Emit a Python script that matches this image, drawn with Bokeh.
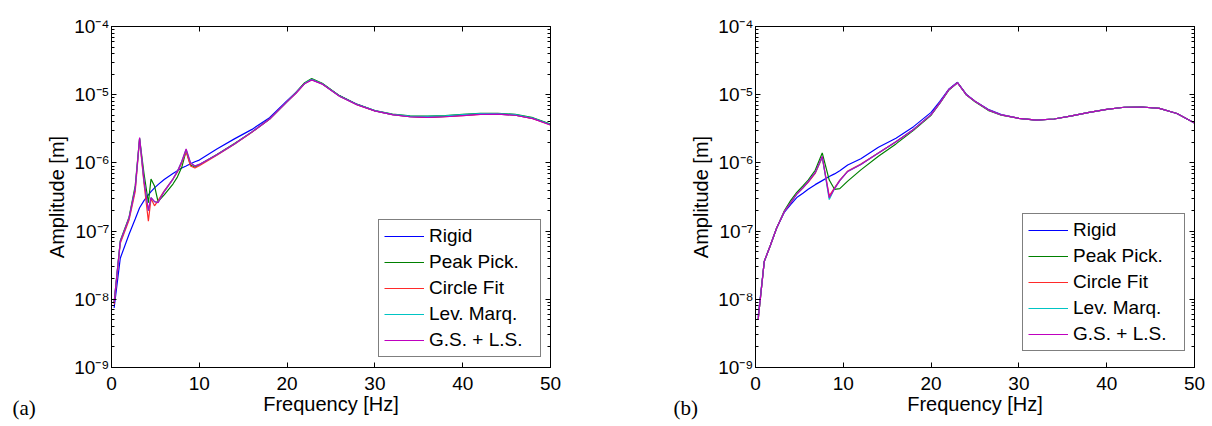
from bokeh.plotting import figure
from bokeh.models import (FixedTicker, LinearAxis, LogAxis, Range1d, Label,
                          CustomJSTickFormatter)
from bokeh.layouts import row
from bokeh.embed import file_html
from bokeh.resources import INLINE

# ---------------- data ----------------
series_names = ["Rigid", "Peak Pick.", "Circle Fit", "Lev. Marq.", "G.S. + L.S."]
series_colors = ["#0000ff", "#008000", "#ff2a2a", "#00c4c4", "#bf00bf"]

x_ticks = [0, 10, 20, 30, 40, 50]
y_major = [1e-9, 1e-8, 1e-7, 1e-6, 1e-5, 1e-4]
panel_tags = ["(a)", "(b)"]

freq_a = [0.3, 1.0, 2.0, 2.7, 3.2, 3.7, 4.2, 4.5, 4.9, 5.3, 6.0, 7.0, 7.5, 8.0,
          8.5, 9.0, 9.5, 10.0, 12.0, 14.0, 16.0, 18.0, 20.0, 21.0, 22.0, 22.8,
          24.0, 26.0, 28.0, 30.0, 32.0, 34.0, 36.0, 38.0, 40.0, 42.0, 44.0,
          46.0, 48.0, 50.0]
rigid_a = [7.5e-9, 4.0e-8, 9.0e-8, 1.5e-7, 2.2e-7, 2.8e-7, 3.4e-7, 3.8e-7,
           4.3e-7, 4.8e-7, 5.7e-7, 7.0e-7, 7.7e-7, 8.4e-7, 9.0e-7, 9.7e-7,
           1.04e-6, 1.1e-6, 1.6e-6, 2.25e-6, 3.1e-6, 4.6e-6, 8.2e-6, 1.08e-5,
           1.47e-5, 1.66e-5, 1.45e-5, 9.6e-6, 7.2e-6, 5.8e-6, 5.1e-6, 4.75e-6,
           4.65e-6, 4.8e-6, 5.0e-6, 5.2e-6, 5.2e-6, 5.0e-6, 4.5e-6, 3.65e-6]
peak_a = [9.0e-9, 7.2e-8, 1.6e-7, 4.6e-7, 2.3e-6, 7.0e-7, 2.6e-7, 5.8e-7,
          4.6e-7, 2.7e-7, 3.4e-7, 4.9e-7, 6.2e-7, 8.6e-7, 1.5e-6, 9.3e-7,
          8.7e-7, 9.4e-7, 1.33e-6, 1.93e-6, 2.85e-6, 4.4e-6, 7.9e-6, 1.07e-5,
          1.5e-5, 1.72e-5, 1.47e-5, 9.6e-6, 7.2e-6, 5.85e-6, 5.2e-6, 4.9e-6,
          4.85e-6, 4.95e-6, 5.15e-6, 5.35e-6, 5.35e-6, 5.15e-6, 4.6e-6, 3.7e-6]
circle_a = [8.5e-9, 6.6e-8, 1.45e-7, 3.8e-7, 2.2e-6, 5.0e-7, 1.4e-7, 3.0e-7,
            2.35e-7, 2.8e-7, 3.9e-7, 5.8e-7, 7.3e-7, 1.0e-6, 1.45e-6, 9.0e-7,
            8.4e-7, 9.1e-7, 1.3e-6, 1.88e-6, 2.82e-6, 4.35e-6, 7.9e-6, 1.05e-5,
            1.46e-5, 1.66e-5, 1.44e-5, 9.5e-6, 7.1e-6, 5.8e-6, 5.1e-6, 4.75e-6,
            4.65e-6, 4.75e-6, 4.95e-6, 5.15e-6, 5.2e-6, 5.0e-6, 4.45e-6, 3.6e-6]
levmar_a = [9.0e-9, 7.0e-8, 1.55e-7, 4.2e-7, 2.3e-6, 5.5e-7, 2.0e-7, 3.1e-7,
            2.7e-7, 2.65e-7, 3.8e-7, 5.8e-7, 7.5e-7, 1.05e-6, 1.57e-6, 1.0e-6,
            9.0e-7, 9.5e-7, 1.32e-6, 1.9e-6, 2.85e-6, 4.4e-6, 7.9e-6, 1.06e-5,
            1.47e-5, 1.68e-5, 1.45e-5, 9.5e-6, 7.15e-6, 5.85e-6, 5.15e-6,
            4.85e-6, 4.8e-6, 4.9e-6, 5.1e-6, 5.3e-6, 5.3e-6, 5.1e-6, 4.55e-6,
            3.65e-6]
gsls_a = [9.0e-9, 7.0e-8, 1.55e-7, 4.2e-7, 2.35e-6, 5.5e-7, 2.0e-7, 3.1e-7,
          2.7e-7, 2.6e-7, 3.8e-7, 5.8e-7, 7.5e-7, 1.05e-6, 1.6e-6, 1.0e-6,
          9.0e-7, 9.5e-7, 1.32e-6, 1.9e-6, 2.85e-6, 4.4e-6, 7.9e-6, 1.05e-5,
          1.45e-5, 1.65e-5, 1.43e-5, 9.4e-6, 7.1e-6, 5.8e-6, 5.1e-6, 4.75e-6,
          4.65e-6, 4.75e-6, 4.95e-6, 5.15e-6, 5.2e-6, 5.0e-6, 4.45e-6, 3.6e-6]

freq_b = [0.3, 1.0, 1.7, 2.4, 3.3, 4.0, 4.7, 5.4, 6.0, 6.8, 7.6, 8.4, 9.0, 9.6,
          10.5, 12.0, 14.0, 16.0, 18.0, 20.0, 21.0, 22.0, 23.0, 24.0, 25.0,
          26.5, 28.0, 30.0, 32.0, 34.0, 36.0, 38.0, 40.0, 42.0, 44.0, 46.0,
          48.0, 50.0]
rigid_b = [5.6e-9, 3.6e-8, 6.2e-8, 1.1e-7, 1.9e-7, 2.45e-7, 3.1e-7, 3.6e-7,
           4.1e-7, 4.8e-7, 5.5e-7, 6.3e-7, 6.9e-7, 7.7e-7, 9.3e-7, 1.15e-6,
           1.7e-6, 2.3e-6, 3.4e-6, 5.5e-6, 8.0e-6, 1.2e-5, 1.52e-5, 1.02e-5,
           8.0e-6, 6.1e-6, 5.1e-6, 4.5e-6, 4.25e-6, 4.4e-6, 4.9e-6, 5.5e-6,
           6.1e-6, 6.55e-6, 6.6e-6, 6.3e-6, 5.3e-6, 3.85e-6]
peak_b = [5.0e-9, 3.6e-8, 6.2e-8, 1.1e-7, 2.0e-7, 2.8e-7, 3.7e-7, 4.6e-7,
          5.6e-7, 7.8e-7, 1.4e-6, 5.6e-7, 4.1e-7, 4.2e-7, 5.4e-7, 7.9e-7,
          1.25e-6, 1.9e-6, 3.0e-6, 5.0e-6, 7.5e-6, 1.16e-5, 1.5e-5, 1.0e-5,
          7.9e-6, 5.9e-6, 5.0e-6, 4.5e-6, 4.25e-6, 4.4e-6, 4.9e-6, 5.5e-6,
          6.1e-6, 6.55e-6, 6.6e-6, 6.3e-6, 5.3e-6, 3.85e-6]
circle_b = [5.0e-9, 3.6e-8, 6.2e-8, 1.1e-7, 1.95e-7, 2.6e-7, 3.5e-7, 4.3e-7,
            5.2e-7, 7.0e-7, 1.2e-6, 3.3e-7, 4.3e-7, 5.6e-7, 7.6e-7, 9.6e-7,
            1.4e-6, 2.05e-6, 3.1e-6, 5.1e-6, 7.6e-6, 1.18e-5, 1.5e-5, 1.0e-5,
            8.0e-6, 6.0e-6, 5.05e-6, 4.5e-6, 4.25e-6, 4.4e-6, 4.9e-6, 5.5e-6,
            6.1e-6, 6.55e-6, 6.6e-6, 6.3e-6, 5.3e-6, 3.85e-6]
levmar_b = [5.0e-9, 3.6e-8, 6.2e-8, 1.1e-7, 1.95e-7, 2.6e-7, 3.5e-7, 4.3e-7,
            5.3e-7, 7.2e-7, 1.22e-6, 2.9e-7, 4.2e-7, 5.5e-7, 7.5e-7, 9.5e-7,
            1.4e-6, 2.05e-6, 3.1e-6, 5.1e-6, 7.6e-6, 1.18e-5, 1.5e-5, 1.0e-5,
            8.0e-6, 6.0e-6, 5.05e-6, 4.5e-6, 4.25e-6, 4.4e-6, 4.9e-6, 5.5e-6,
            6.1e-6, 6.55e-6, 6.6e-6, 6.3e-6, 5.3e-6, 3.85e-6]
gsls_b = [5.0e-9, 3.6e-8, 6.2e-8, 1.1e-7, 1.95e-7, 2.6e-7, 3.5e-7, 4.3e-7,
          5.3e-7, 7.2e-7, 1.25e-6, 3.1e-7, 4.2e-7, 5.5e-7, 7.5e-7, 9.5e-7,
          1.4e-6, 2.05e-6, 3.1e-6, 5.1e-6, 7.6e-6, 1.18e-5, 1.5e-5, 1.0e-5,
          8.0e-6, 6.0e-6, 5.05e-6, 4.5e-6, 4.25e-6, 4.4e-6, 4.9e-6, 5.5e-6,
          6.1e-6, 6.55e-6, 6.6e-6, 6.3e-6, 5.3e-6, 3.85e-6]

panels = [
    (freq_a, [rigid_a, peak_a, circle_a, levmar_a, gsls_a]),
    (freq_b, [rigid_b, peak_b, circle_b, levmar_b, gsls_b]),
]

# ---------------- styling ----------------
FONT = "Liberation Sans"
FS = "19px"
sup_js = """
const sup = {"-": "\\u207b", "0": "\\u2070", "1": "\\u00b9", "2": "\\u00b2",
             "3": "\\u00b3", "4": "\\u2074", "5": "\\u2075", "6": "\\u2076",
             "7": "\\u2077", "8": "\\u2078", "9": "\\u2079"};
const e = Math.round(Math.log10(tick)).toString();
return "10" + e.split("").map(c => sup[c]).join("");
"""

minor_y = [m * d for d in y_major[:-1] for m in range(2, 10)]


def style_axis(ax):
    ax.axis_line_color = "black"
    ax.axis_line_width = 1
    ax.major_tick_in = 5
    ax.major_tick_out = 0
    ax.minor_tick_in = 3
    ax.minor_tick_out = 0
    ax.major_tick_line_color = "black"
    ax.minor_tick_line_color = "black"
    ax.major_label_text_font = FONT
    ax.major_label_text_font_size = FS
    ax.major_label_text_color = "black"
    ax.axis_label_text_font = FONT
    ax.axis_label_text_font_size = "20px"
    ax.axis_label_text_font_style = "normal"
    ax.axis_label_text_color = "black"


def box_axis(ax):
    # mirrored MATLAB-style box axis: ticks only
    style_axis(ax)
    ax.major_label_text_font_size = "1px"
    ax.major_label_text_alpha = 0
    ax.major_label_standoff = 0


def make_panel(idx, borders, legend_loc, tag_x):
    freq, ys = panels[idx]
    p = figure(frame_width=439, frame_height=341,
               x_range=Range1d(0, 50), y_range=Range1d(1e-9, 1e-4),
               y_axis_type="log", output_backend="svg",
               toolbar_location=None,
               min_border_left=borders[0], min_border_right=borders[1],
               min_border_top=26, min_border_bottom=55)
    p.xgrid.visible = False
    p.ygrid.visible = False
    p.outline_line_color = "black"
    p.outline_line_alpha = 1

    xt = FixedTicker(ticks=x_ticks, minor_ticks=[])
    yt = FixedTicker(ticks=y_major, minor_ticks=minor_y)

    p.xaxis.ticker = xt
    p.yaxis.ticker = yt
    p.yaxis.formatter = CustomJSTickFormatter(code=sup_js)
    p.xaxis.axis_label = "Frequency [Hz]"
    p.yaxis.axis_label = "Amplitude [m]"
    style_axis(p.xaxis[0])
    style_axis(p.yaxis[0])
    p.xaxis.major_label_standoff = 9
    p.xaxis.axis_label_standoff = 0
    p.yaxis.major_label_standoff = 2
    p.yaxis.axis_label_standoff = 3

    top = LinearAxis(ticker=xt)
    box_axis(top)
    p.add_layout(top, "above")
    right = LogAxis(ticker=yt)
    box_axis(right)
    p.add_layout(right, "right")

    for name, color, yv in zip(series_names, series_colors, ys):
        p.line(freq, yv, line_color=color, line_width=1.2, legend_label=name)

    lg = p.legend[0]
    lg.location = legend_loc
    lg.border_line_color = "black"
    lg.border_line_width = 1
    lg.background_fill_color = "white"
    lg.background_fill_alpha = 1
    lg.label_text_font = FONT
    lg.label_text_font_size = FS
    lg.label_text_color = "black"
    lg.glyph_width = 40
    lg.glyph_height = 22
    lg.label_height = 22
    lg.label_width = 106
    lg.label_standoff = 5
    lg.spacing = 4
    lg.padding = 5
    lg.margin = 0

    # panel tag "(a)" / "(b)" in the left side panel (not clipped to frame)
    p.add_layout(Label(x=tag_x, y=-40, x_units="screen", y_units="screen",
                       text=panel_tags[idx], text_font="Liberation Serif",
                       text_font_size="21px", text_baseline="middle",
                       text_color="black"), "left")
    return p


p1 = make_panel(0, (111, 60), (267, 10), -8)
p2 = make_panel(1, (145, 14), (267, 16), 10)
layout = row(p1, p2, spacing=0)

with open("out.html", "w", encoding="utf-8") as f:
    f.write(file_html(layout, INLINE))
